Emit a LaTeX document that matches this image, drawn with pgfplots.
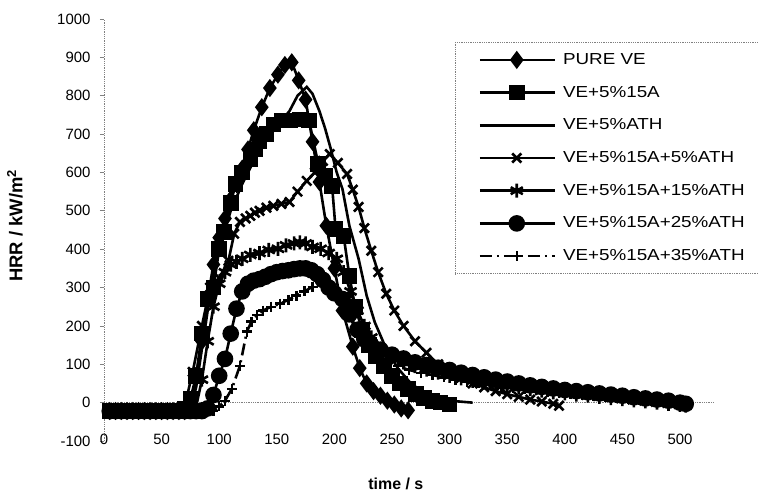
\documentclass[border=0pt]{standalone}
\usepackage{fontspec}
\setmainfont{Liberation Sans}
\newfontfamily\legfont{Liberation Sans}[FakeStretch=1.18]
\usepackage{pgfplots}
\pgfplotsset{compat=1.18}
\begin{document}
\begin{tikzpicture}
\begin{axis}[
  at={(0,0)}, anchor=south west,
  scale only axis, width=610.56bp, height=422bp,
  xmin=0, xmax=530, ymin=-100, ymax=1000,
  xtick={0,50,...,500}, ytick={-100,0,...,1000},
  axis x line*=bottom, axis y line*=left,
  x axis line style={draw=none},
  y axis line style={draw=gray, densely dotted, line width=0.8bp},
  xtick style={draw=none},
  ytick style={draw=gray, solid, line width=0.8bp},
  tick align=outside, major tick length=4bp,
  /pgf/number format/assume math mode=true,
  /pgf/number format/1000 sep={},
  tick label style={font=\fontsize{15}{18}\selectfont},
  xticklabel style={anchor=center, yshift=6bp},
  yticklabel style={anchor=east, xshift=-6bp},
  xlabel={\textbf{time / s}},
  ylabel={\textbf{HRR / kW/m\textsuperscript{2}}},
  xlabel style={font=\fontsize{16}{19}\selectfont, at={(axis description cs:0.478,-0.102)}, anchor=center},
  ylabel style={font=\fontsize{18.5}{21}\selectfont, at={(axis description cs:-0.146,0.51)}, anchor=center},
  every axis plot/.append style={black, solid, line width=2.6bp},
  legend cell align=left,
  legend image code/.code={\draw[mark repeat=2, mark phase=2, #1] plot coordinates {(0bp,0bp) (37bp,0bp) (75bp,0bp)};},
  legend style={at={(0.575,0.9455)}, anchor=north west, draw=gray, densely dotted, line width=0.8bp, fill=white,
    font=\legfont\fontsize{16}{19}\selectfont, inner xsep=23bp, inner ysep=10bp, row sep=17.7bp,
    nodes={inner sep=0pt, text height=12bp, text depth=3bp},
    /tikz/every odd column/.append style={column sep=7bp}},
]
\draw[gray, densely dotted, line width=0.8bp] (axis cs:0,0) -- (axis cs:530,0);

% PURE VE
\addplot[mark=diamond*, mark size=7bp, mark options={solid}] coordinates {
(5,-22)(10,-22)(15,-22)(20,-22)(25,-22)(30,-22)(35,-22)(40,-22)(45,-22)(50,-22)(55,-22)(60,-22)(65,-22)(70,-22)
(75,-15)(80,70)(85,160)(90,270)(95,360)(100,430)(105,480)(110,530)(115,570)(120,610)(125,660)(130,710)(137,770)
(144,820)(151,855)(157,880)(163,887)(169,840)(175,790)(181,680)(187,575)(193,461)(200,350)(207,240)(216,146)
(222,90)(228,50)(234,30)(240,18)(246,5)(252,-5)(258,-15)(264,-20)};
\addlegendentry{PURE VE}

% VE+5%15A
\addplot[mark=square*, mark size=6.5bp, mark options={solid}] coordinates {
(5,-22)(10,-22)(15,-22)(20,-22)(25,-22)(30,-22)(35,-22)(40,-22)(45,-22)(50,-22)(55,-22)(60,-22)(65,-22)
(70,-15)(75,10)(80,70)(85,180)(90,270)(95,300)(100,400)(104,445)(110,520)(114,570)(120,600)(127,635)(131,660)
(135,682)(141,700)(147,725)(154,735)(162,735)(170,738)(178,735)(186,622)(192,590)(198,565)(201,453)(208,435)
(213,330)(218,250)(224,190)(230,150)(236,120)(243,95)(250,70)(257,50)(264,35)(271,22)(278,12)(285,5)(292,0)(300,-5)};
\addlegendentry{VE+5\%15A}

% VE+5%ATH
\addplot[mark=none] coordinates {
(5,-22)(10,-22)(15,-22)(20,-22)(25,-22)(30,-22)(35,-22)(40,-22)(45,-22)(50,-22)(55,-22)(60,-22)(65,-22)(70,-22)
(75,-15)(80,40)(85,140)(90,240)(95,330)(100,400)(110,500)(120,570)(130,630)(140,680)(150,720)(161,760)(168,800)
(176,823)(181,805)(187,760)(192,714)(197,660)(202,600)(207,557)(213,461)(221,375)(228,279)(235,210)(245,140)
(255,90)(265,55)(275,30)(285,15)(300,5)(320,0)};
\addlegendentry{VE+5\%ATH}

% VE+5%15A+5%ATH
\addplot[mark=x, mark size=6.5bp, mark options={solid, line width=2.6bp}] coordinates {
(5,-22)(10,-22)(15,-22)(20,-22)(25,-22)(30,-22)(35,-22)(40,-22)(45,-22)(50,-22)(55,-22)(60,-22)(65,-22)
(70,-10)(77,80)(85,200)(92,300)(100,325)(108,370)(113,440)(118,471)(123,480)(127,487)(131,495)(135,500)(141,508)
(147,513)(154,518)(161,523)(168,550)(176,578)(183,600)(190,630)(196,648)(203,625)(211,596)(216,555)(221,510)
(226,455)(232,396)(238,340)(245,284)(252,240)(260,200)(270,160)(280,130)(290,100)(300,80)(310,65)(320,50)
(330,40)(340,30)(350,22)(360,15)(370,8)(380,3)(390,-3)(395,-8)};
\addlegendentry{VE+5\%15A+5\%ATH}

% VE+5%15A+15%ATH
\addplot[mark=asterisk, mark size=7bp, mark options={solid, line width=2.6bp}] coordinates {
(5,-22)(10,-22)(15,-22)(20,-22)(25,-22)(30,-22)(35,-22)(40,-22)(45,-22)(50,-22)(55,-22)(60,-22)(65,-22)(70,-22)(75,-22)
(80,-10)(85,60)(90,160)(95,250)(100,310)(105,340)(110,360)(115,367)(120,375)(127,385)(135,390)(143,398)(151,401)
(158,410)(165,415)(170,418)(175,415)(181,406)(188,401)(195,390)(202,375)(208,340)(214,290)(220,240)(226,200)
(232,170)(240,140)(250,118)(260,105)(270,95)(280,86)(290,78)(300,70)(310,63)(320,57)(330,52)(340,47)(350,43)
(360,39)(370,35)(380,31)(390,27)(400,24)(410,21)(420,18)(430,15)(440,12)(450,9)(460,6)(470,3)(480,0)(490,-3)(500,-6)(505,-8)};
\addlegendentry{VE+5\%15A+15\%ATH}

% VE+5%15A+25%ATH
\addplot[mark=*, mark size=7bp, mark options={solid}] coordinates {
(5,-22)(10,-22)(15,-22)(20,-22)(25,-22)(30,-22)(35,-22)(40,-22)(45,-22)(50,-22)(55,-22)(60,-22)(65,-22)(70,-22)(75,-22)(80,-22)(85,-22)
(90,-15)(95,20)(100,70)(105,114)(110,180)(115,245)(120,290)(125,310)(130,318)(135,322)(140,328)(145,335)(150,340)
(155,343)(160,345)(165,348)(170,350)(175,350)(180,345)(185,335)(190,320)(195,300)(200,285)(207,270)(213,230)
(220,190)(226,165)(232,150)(240,138)(250,125)(260,115)(270,105)(280,98)(290,91)(300,85)(310,78)(320,72)(330,66)
(340,60)(350,55)(360,50)(370,45)(380,41)(390,37)(400,33)(410,30)(420,27)(430,24)(440,21)(450,18)(460,14)(470,11)
(480,8)(490,5)(500,0)(505,-3)};
\addlegendentry{VE+5\%15A+25\%ATH}

% VE+5%15A+35%ATH
\addplot[mark=+, mark size=5bp, mark options={solid, line width=2.4bp}, dash pattern=on 12bp off 5bp on 2bp off 5bp] coordinates {
(5,-22)(10,-22)(15,-22)(20,-22)(25,-22)(30,-22)(35,-22)(40,-22)(45,-22)(50,-22)(55,-22)(60,-22)(65,-22)(70,-22)(75,-22)(80,-22)(85,-22)(90,-22)(95,-22)
(100,-10)(105,5)(111,36)(118,96)(124,185)(128,211)(133,228)(138,240)(145,250)(153,258)(160,268)(167,279)(174,290)
(181,302)(188,315)(193,312)(198,300)(203,280)(208,255)(213,225)(218,195)(224,165)(230,140)(238,120)(246,105)
(255,95)(265,85)(275,78)(285,72)(295,66)(305,60)(315,55)(325,50)(335,46)(345,42)(355,38)(365,35)(375,32)(385,29)
(395,26)(405,23)(415,20)(425,17)(435,14)(445,12)(455,10)(465,8)(475,5)(485,3)(495,0)(505,-3)};
\addlegendentry{VE+5\%15A+35\%ATH}
\end{axis}
\pgfresetboundingbox
\path (-104bp,-56bp) rectangle (655bp,441bp);
\end{tikzpicture}
\end{document}
